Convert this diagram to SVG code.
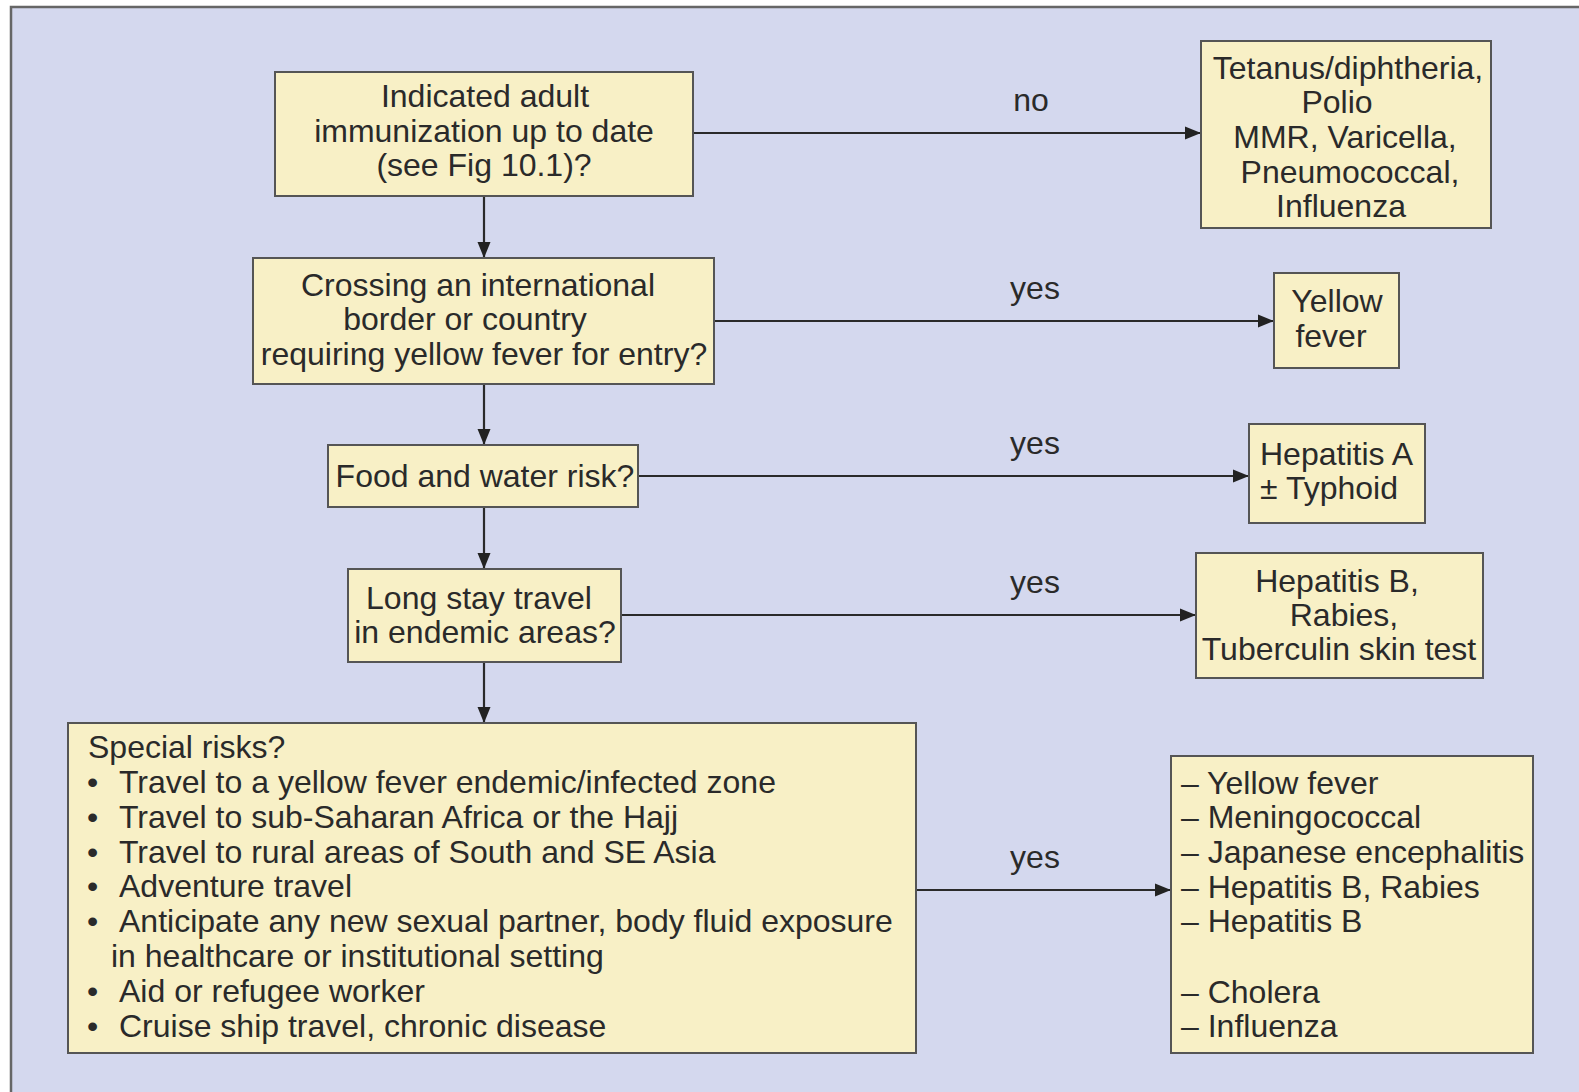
<svg xmlns="http://www.w3.org/2000/svg" width="1579" height="1092" viewBox="0 0 1579 1092">
<defs>
<marker id="ah" markerUnits="userSpaceOnUse" markerWidth="16" markerHeight="14" refX="16" refY="7" orient="auto">
<path d="M0,0.5 L16,7 L0,13.5 z" fill="#222"/>
</marker>
<style>
.box{fill:#f8f0c6;stroke:#555;stroke-width:2}
.t{font-family:"Liberation Sans",Arial,sans-serif;font-size:32px;fill:#2a2a2a}
.c{text-anchor:middle}
.ln{stroke:#2a2a2a;stroke-width:2.2;fill:none;marker-end:url(#ah)}
</style>
</defs>
<rect x="0" y="0" width="1579" height="1092" fill="#ffffff"/>
<rect x="11" y="7" width="1568" height="1085" fill="#d4d8ee"/>
<path d="M11,1092 L11,7 L1579,7" fill="none" stroke="#666" stroke-width="2.5"/>

<g id="connectors">
<line class="ln" x1="484" y1="196" x2="484" y2="258"/>
<line class="ln" x1="484" y1="384" x2="484" y2="445"/>
<line class="ln" x1="484" y1="507" x2="484" y2="569"/>
<line class="ln" x1="484" y1="662" x2="484" y2="723"/>
<line class="ln" x1="693" y1="133" x2="1201" y2="133"/>
<line class="ln" x1="714" y1="321" x2="1274" y2="321"/>
<line class="ln" x1="638" y1="476" x2="1249" y2="476"/>
<line class="ln" x1="621" y1="615" x2="1196" y2="615"/>
<line class="ln" x1="916" y1="890" x2="1171" y2="890"/>
<text class="t c" x="1031" y="111">no</text>
<text class="t c" x="1035" y="299">yes</text>
<text class="t c" x="1035" y="454">yes</text>
<text class="t c" x="1035" y="593">yes</text>
<text class="t c" x="1035" y="868">yes</text>
</g>

<g id="q1">
<rect class="box" x="275" y="72" width="418" height="124"/>
<text class="t c" x="485" y="107">Indicated adult</text>
<text class="t c" x="484" y="142">immunization up to date</text>
<text class="t c" x="484" y="176">(see Fig 10.1)?</text>
</g>

<g id="r1">
<rect class="box" x="1201" y="41" width="290" height="187"/>
<text class="t c" x="1348" y="79">Tetanus/diphtheria,</text>
<text class="t c" x="1337" y="113">Polio</text>
<text class="t c" x="1345" y="148">MMR, Varicella,</text>
<text class="t c" x="1350" y="183">Pneumococcal,</text>
<text class="t c" x="1341" y="217">Influenza</text>
</g>

<g id="q2">
<rect class="box" x="253" y="258" width="461" height="126"/>
<text class="t c" x="478" y="296">Crossing an international</text>
<text class="t c" x="465" y="330">border or country</text>
<text class="t c" x="484" y="365">requiring yellow fever for entry?</text>
</g>

<g id="r2">
<rect class="box" x="1274" y="273" width="125" height="95"/>
<text class="t c" x="1337" y="312">Yellow</text>
<text class="t c" x="1331" y="347">fever</text>
</g>

<g id="q3">
<rect class="box" x="328" y="445" width="310" height="62"/>
<text class="t c" x="485" y="487">Food and water risk?</text>
</g>

<g id="r3">
<rect class="box" x="1249" y="424" width="176" height="99"/>
<text class="t" x="1260" y="465">Hepatitis A</text>
<text class="t" x="1260" y="499">± Typhoid</text>
</g>

<g id="q4">
<rect class="box" x="348" y="569" width="273" height="93"/>
<text class="t c" x="479" y="609">Long stay travel</text>
<text class="t c" x="485" y="643">in endemic areas?</text>
</g>

<g id="r4">
<rect class="box" x="1196" y="553" width="287" height="125"/>
<text class="t c" x="1337" y="592">Hepatitis B,</text>
<text class="t c" x="1344" y="626">Rabies,</text>
<text class="t c" x="1339" y="660">Tuberculin skin test</text>
</g>

<g id="q5">
<rect class="box" x="68" y="723" width="848" height="330"/>
<text class="t" x="88" y="758">Special risks?</text>
<text class="t" x="87" y="793">•</text><text class="t" x="119" y="793">Travel to a yellow fever endemic/infected zone</text>
<text class="t" x="87" y="828">•</text><text class="t" x="119" y="828">Travel to sub-Saharan Africa or the Hajj</text>
<text class="t" x="87" y="863">•</text><text class="t" x="119" y="863">Travel to rural areas of South and SE Asia</text>
<text class="t" x="87" y="897">•</text><text class="t" x="119" y="897">Adventure travel</text>
<text class="t" x="87" y="932">•</text><text class="t" x="119" y="932">Anticipate any new sexual partner, body fluid exposure</text>
<text class="t" x="111" y="967">in healthcare or institutional setting</text>
<text class="t" x="87" y="1002">•</text><text class="t" x="119" y="1002">Aid or refugee worker</text>
<text class="t" x="87" y="1037">•</text><text class="t" x="119" y="1037">Cruise ship travel, chronic disease</text>
</g>

<g id="r5">
<rect class="box" x="1171" y="756" width="362" height="297"/>
<text class="t" x="1181" y="794">– Yellow fever</text>
<text class="t" x="1181" y="828">– Meningococcal</text>
<text class="t" x="1181" y="863">– Japanese encephalitis</text>
<text class="t" x="1181" y="898">– Hepatitis B, Rabies</text>
<text class="t" x="1181" y="932">– Hepatitis B</text>
<text class="t" x="1181" y="1003">– Cholera</text>
<text class="t" x="1181" y="1037">– Influenza</text>
</g>
</svg>
